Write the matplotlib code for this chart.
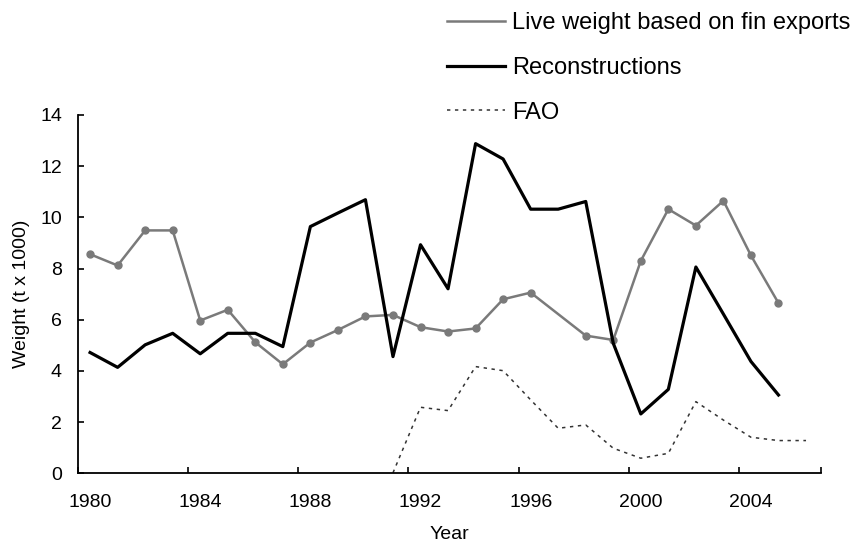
import numpy as np
import matplotlib
matplotlib.use("Agg")
import matplotlib.pyplot as plt
from matplotlib.lines import Line2D

plt.rcParams['font.family'] = ['Liberation Sans', 'DejaVu Sans']

# Data
years = np.arange(1980, 2007)

# gray line with dots (no value for 1997 or 2006)
live_weight = [8.56, 8.12, 9.49, 9.49, 5.97, 6.39, 5.12, 4.26, 5.11, 5.60,
               6.13, 6.19, 5.71, 5.54, 5.66, 6.80, 7.06, np.nan, 5.38, 5.21,
               8.30, 10.32, 9.68, 10.65, 8.51, 6.65, np.nan]

reconstructions = [4.72, 4.14, 5.02, 5.47, 4.67, 5.47, 5.47, 4.95, 9.64, 10.17,
                   10.69, 4.56, 8.93, 7.21, 12.88, 12.28, 10.32, 10.32, 10.62, 5.08,
                   2.32, 3.28, 8.06, 6.22, 4.37, 3.06, np.nan]

fao = [np.nan] * 11 + [0.02, 2.58, 2.45, 4.17, 4.01, 2.87, 1.76, 1.89, 0.98,
                       0.59, 0.78, 2.80, 2.08, 1.41, 1.28, 1.28]

tick_years = [1980, 1984, 1988, 1992, 1996, 2000, 2004]

gray = '#7a7a7a'
fao_style = dict(color='#333333', linewidth=1.1, linestyle=(0, (2.2, 3)))

fig = plt.figure(figsize=(8.53, 5.47), dpi=100)
ax = fig.add_axes([0.0914, 0.1347, 0.8716, 0.6551])

lw = np.array(live_weight)
m = ~np.isnan(lw)
ax.plot(years[m], lw[m], color=gray, linewidth=1.8, marker='o', markersize=5)

rc = np.array(reconstructions)
m = ~np.isnan(rc)
ax.plot(years[m], rc[m], color='black', linewidth=2.3)

fa = np.array(fao)
m = ~np.isnan(fa)
ax.plot(years[m], fa[m], **fao_style)

# category-style axis: tick marks sit at the category edges
off = 0.44
ax.set_xlim(1980 - off, 2007 - off)
ax.set_ylim(0, 14)
ax.set_yticks(range(0, 15, 2))
ax.set_xticks(tick_years)
ax.set_xticks([y - off for y in tick_years] + [2007 - off], minor=True)

ax.tick_params(axis='x', which='major', length=0, pad=15, labelsize=14)
ax.tick_params(axis='x', which='minor', direction='in', length=4, width=1.2)
ax.tick_params(axis='y', direction='in', length=4, width=1.2, pad=11.5,
               labelsize=14)

for s in ['top', 'right']:
    ax.spines[s].set_visible(False)
for s in ['left', 'bottom']:
    ax.spines[s].set_linewidth(1.3)

ax.set_xlabel('Year', fontsize=14, labelpad=11)
ax.set_ylabel('Weight (t x 1000)', fontsize=14, labelpad=7)

# legend entries are plain lines (no dot on the gray one)
handles = [Line2D([], [], color=gray, linewidth=1.8),
           Line2D([], [], color='black', linewidth=2.3),
           Line2D([], [], **fao_style)]
labels = ['Live weight based on fin exports', 'Reconstructions', 'FAO']
fig.legend(handles, labels, loc='upper right', bbox_to_anchor=(1.0, 0.982),
           frameon=False, fontsize=17, handlelength=2.45, handletextpad=0.3,
           labelspacing=0.96, borderaxespad=0.0, borderpad=0.1)

fig.savefig('out.png', dpi=100)
